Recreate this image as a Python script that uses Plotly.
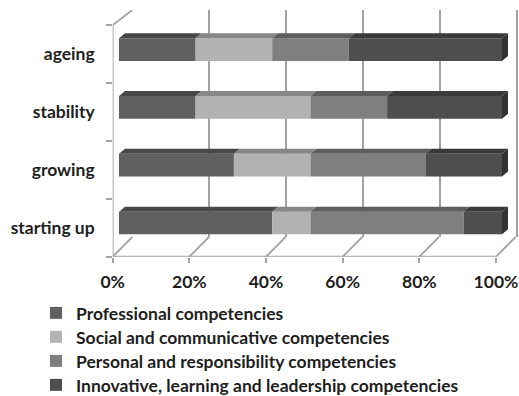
import plotly.graph_objects as go

# ---------------- data ----------------
categories = ["starting up", "growing", "stability", "ageing"]
series_names = [
    "Professional competencies",
    "Social and communicative competencies",
    "Personal and responsibility competencies",
    "Innovative, learning and leadership competencies",
]
professional = [40, 30, 20, 20]
social = [10, 20, 30, 20]
personal = [40, 30, 20, 20]
innovative = [10, 20, 30, 40]
x_ticks = [0, 20, 40, 60, 80, 100]
x_tick_labels = ["0%", "20%", "40%", "60%", "80%", "100%"]

# ---------------- styling ----------------
W, H = 519, 396
front_colors = ["#606060", "#b2b2b2", "#7f7f7f", "#4e4e4e"]
top_colors = ["#484848", "#878787", "#5e5e5e", "#3a3a3a"]
side_color = "#333333"
wall_color = "#a3a3a3"
text_color = "#1e1e1e"
FONT = "Lato"
FS = 17.5


def fx(p):
    return p / W


def fy(p):
    return 1 - p / H


# pixel geometry
front_left, front_right = 112.7, 496.0      # front plane 0% / 100%
back_left, back_right = 132.3, 516.7        # back wall 0% / 100%
front_bottom, front_top = 256.7, 25.0       # front plane floor / top
back_bottom, back_top = 237.0, 10.0         # back wall floor / top
bar_left, bar_right = 119.0, 502.0          # bar front face 0% / 100%
bar_row_top, bar_row_bottom = 20.7, 251.9   # bar band range (-0.5 .. 3.5)
bar_w_frac = 0.393
depth_dx, depth_dy = 6.0, 5.0               # bar depth in px
legend_rows = [313, 337, 361, 385]          # legend row centres (px)
legend_text_x = 36                          # legend block left (px)

n = len(categories)
idx = list(range(n))

fig = go.Figure()

# ---- back wall gridlines (x / y) ----
fig.add_trace(go.Scatter(x=[0], y=[0], xaxis="x", yaxis="y", mode="markers",
                         marker=dict(opacity=0), showlegend=False, hoverinfo="skip"))

# ---- front plane: labels + floor / wall decor (x2 / y2) ----
s2 = (front_right - front_left) / 100.0
row2 = (front_bottom - front_top) / n
ddx = (back_left - front_left) / s2
floor_back_y = -0.5 + (front_bottom - back_bottom) / row2
top_back_y = n - 0.5 + (front_top - back_top) / row2

dec_x, dec_y = [], []
for v in x_ticks:
    dec_x += [v, v + ddx, None]
    dec_y += [-0.5, floor_back_y, None]
dec_x += [x_ticks[0], x_ticks[-1], None]
dec_y += [-0.5, -0.5, None]
dec_x += [x_ticks[0], x_ticks[0], x_ticks[0] + ddx, None]
dec_y += [-0.5, n - 0.5, top_back_y, None]
fig.add_trace(go.Scatter(x=dec_x, y=dec_y, xaxis="x2", yaxis="y2", mode="lines",
                         line=dict(color=wall_color, width=1.8),
                         showlegend=False, hoverinfo="skip"))

# ---- bars (x3 / y3) ----
series = [professional, social, personal, innovative]
s3 = (bar_right - bar_left) / 100.0
row3 = (bar_row_bottom - bar_row_top) / n
bdx = depth_dx / s3
bdy = depth_dy / row3

bases = [[0] * n]
for k in range(len(series) - 1):
    bases.append([b + v for b, v in zip(bases[-1], series[k])])

legend_ids = ["legend", "legend2", "legend3", "legend4"]
for k, vals in enumerate(series):
    fig.add_trace(go.Bar(
        y=idx, x=vals, base=bases[k], orientation="h", xaxis="x3", yaxis="y3",
        name=series_names[k], width=bar_w_frac, legend=legend_ids[k],
        marker=dict(color=front_colors[k], line=dict(width=0)),
    ))

# top faces
for k, vals in enumerate(series):
    px_, py_ = [], []
    for i in idx:
        x0 = bases[k][i]
        x1 = x0 + vals[i]
        yt = i + bar_w_frac / 2
        px_ += [x0, x0 + bdx, x1 + bdx, x1, x0, None]
        py_ += [yt, yt + bdy, yt + bdy, yt, yt, None]
    fig.add_trace(go.Scatter(x=px_, y=py_, xaxis="x3", yaxis="y3", mode="lines",
                             fill="toself", fillcolor=top_colors[k],
                             line=dict(width=0, color=top_colors[k]),
                             showlegend=False, hoverinfo="skip"))

# right side faces
sx, sy = [], []
for i in idx:
    xe = bases[-1][i] + series[-1][i]
    yt = i + bar_w_frac / 2
    yb = i - bar_w_frac / 2
    sx += [xe, xe + bdx, xe + bdx, xe, xe, None]
    sy += [yt, yt + bdy, yb + bdy, yb, yt, None]
fig.add_trace(go.Scatter(x=sx, y=sy, xaxis="x3", yaxis="y3", mode="lines",
                         fill="toself", fillcolor=side_color,
                         line=dict(width=0, color=side_color),
                         showlegend=False, hoverinfo="skip"))

# ---------------- layout ----------------
s1 = (back_right - back_left) / 100.0
layout = dict(
    template="none",
    width=W, height=H,
    margin=dict(l=0, r=0, t=0, b=0, pad=0, autoexpand=False),
    paper_bgcolor="white", plot_bgcolor="rgba(0,0,0,0)",
    font=dict(family=FONT, size=FS, color=text_color, weight="bold"),
    barmode="overlay",
    showlegend=True,
    # back wall
    xaxis=dict(domain=[fx(back_left), fx(W)], range=[0, (W - back_left) / s1],
               anchor="y", tickvals=x_ticks, showticklabels=False, ticks="",
               showgrid=True, gridcolor=wall_color, gridwidth=1.8, automargin=False,
               zeroline=False, showline=False, fixedrange=True),
    yaxis=dict(domain=[fy(back_bottom), fy(back_top)], range=[0, 1], anchor="x",
               showgrid=False, zeroline=False, showticklabels=False, ticks="",
               showline=False, fixedrange=True, automargin=False),
    # front plane with labels
    xaxis2=dict(domain=[fx(front_left), fx(W)], range=[0, (W - front_left) / s2],
                anchor="y2", tickvals=x_ticks, ticktext=x_tick_labels,
                ticks="outside", ticklen=5, tickcolor=wall_color, tickwidth=1.8,
                ticklabelstandoff=4, automargin=False,
                showgrid=False, zeroline=False, showline=False, fixedrange=True),
    yaxis2=dict(domain=[fy(front_bottom), fy(back_top)],
                range=[-0.5, top_back_y], anchor="x2",
                tickvals=idx, ticktext=categories, ticks="",
                ticklabelstandoff=17, automargin=False,
                minor=dict(tickvals=[i - 0.5 for i in range(n + 1)], ticks="outside",
                           ticklen=6, tickcolor=wall_color, tickwidth=1.8, showgrid=False),
                showgrid=False, zeroline=False, showline=False, fixedrange=True),
    # bars
    xaxis3=dict(domain=[fx(bar_left), fx(W)], range=[0, (W - bar_left) / s3],
                anchor="y3", visible=False, fixedrange=True, automargin=False),
    yaxis3=dict(domain=[fy(bar_row_bottom), fy(bar_row_top)], range=[-0.5, n - 0.5],
                anchor="x3", visible=False, fixedrange=True, automargin=False),
)
for k, lid in enumerate(legend_ids):
    layout[lid] = dict(
        orientation="v", traceorder="normal",
        x=fx(legend_text_x), xanchor="left", y=fy(legend_rows[k]), yanchor="middle",
        font=dict(family=FONT, size=FS, color=text_color, weight="bold"),
        bgcolor="rgba(0,0,0,0)", borderwidth=0, itemwidth=30,
    )
fig.update_layout(**layout)

fig.write_html("out.html")
